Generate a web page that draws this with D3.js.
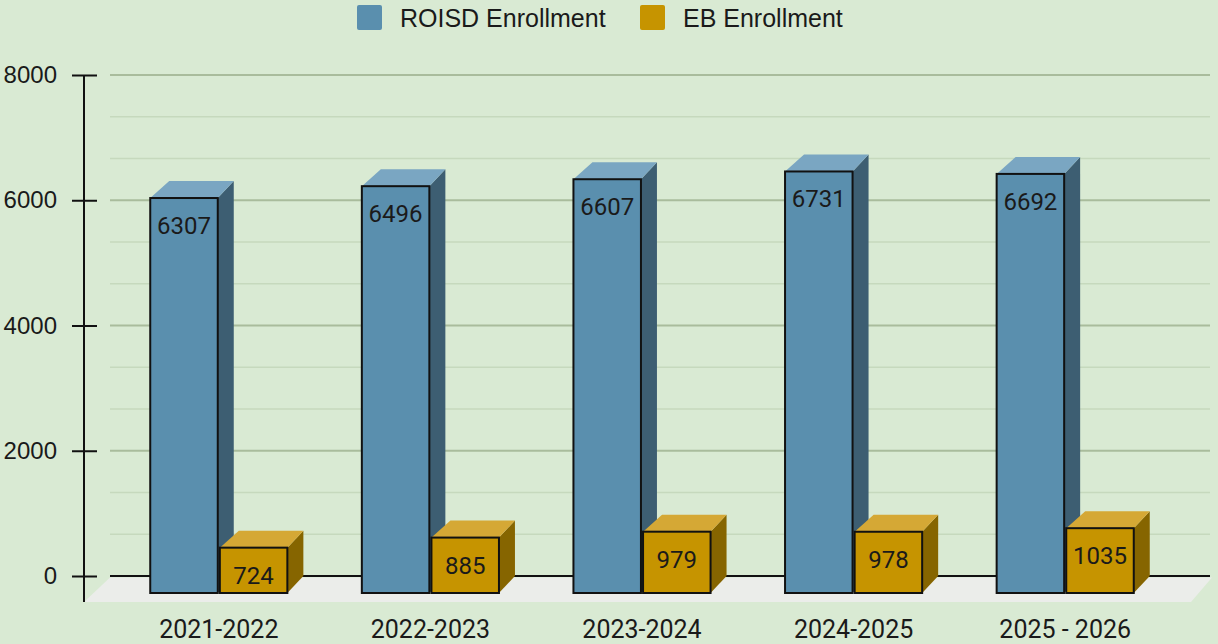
<!DOCTYPE html>
<html>
<head>
<meta charset="utf-8">
<script src="https://cdn.jsdelivr.net/npm/d3@7/dist/d3.min.js"></script>
<style>
  html, body { margin: 0; padding: 0; background: #d9ead3; }
  svg { display: block; }
</style>
</head>
<body>
<svg id="chart" width="1218" height="644"></svg>
<script>
// Enrollment per school year
const categories = ["2021-2022", "2022-2023", "2023-2024", "2024-2025", "2025 - 2026"];
const seriesNames = ["ROISD Enrollment", "EB Enrollment"];
const roisdValues = [6307, 6496, 6607, 6731, 6692];
const ebValues = [724, 885, 979, 978, 1035];
const yTicks = [0, 2000, 4000, 6000, 8000];

const W = 1218, H = 644;
const svg = d3.select("#chart");

// 3D depth offset from the front plane to the back wall
const DX = 16, DY = -17;

const colors = {
  "ROISD Enrollment": { front: "#5a8fae", side: "#3d5e72", top: "#7aa6c2" },
  "EB Enrollment":    { front: "#c69400", side: "#866500", top: "#d5a835" }
};

// scales in the front plane
const x = d3.scaleBand().domain(categories).range([113, 1171]).paddingInner(0.352).paddingOuter(0.176);
const xs = d3.scaleBand().domain(seriesNames).range([0, x.bandwidth()]).paddingInner(0.03);
const y = d3.scaleLinear().domain([0, 8000]).range([593, 92]);

// background
svg.append("rect").attr("width", W).attr("height", H).attr("fill", "#d9ead3");

// back-wall gridlines: major every 2000, minor at thirds
const gx0 = 110, gx1 = 1210;
const minor = d3.range(0, 8000, 2000 / 3).filter(v => v % 2000 > 1 && 2000 - (v % 2000) > 1);
svg.append("g").selectAll("line").data(minor).join("line")
  .attr("x1", gx0).attr("x2", gx1)
  .attr("y1", d => y(d) + DY).attr("y2", d => y(d) + DY)
  .attr("stroke", "#c6d9bd").attr("stroke-width", 1.5);
svg.append("g").selectAll("line").data(yTicks.filter(d => d > 0)).join("line")
  .attr("x1", gx0).attr("x2", gx1)
  .attr("y1", d => y(d) + DY).attr("y2", d => y(d) + DY)
  .attr("stroke", "#a9bc9c").attr("stroke-width", 2);
svg.append("line")
  .attr("x1", gx0).attr("x2", gx1)
  .attr("y1", y(0) + DY).attr("y2", y(0) + DY)
  .attr("stroke", "#111").attr("stroke-width", 2);

// floor
svg.append("polygon")
  .attr("points", [[84, 602], [110, 577.5], [1212, 577.5], [1191, 602]].map(p => p.join(",")).join(" "))
  .attr("fill", "#ebedea");

// y axis
svg.append("line").attr("x1", 84).attr("x2", 84).attr("y1", y(8000) + DY).attr("y2", 602)
  .attr("stroke", "#111").attr("stroke-width", 2);
const yBack = d3.scaleLinear().domain(y.domain()).range(y.range().map(v => v + DY));
const axis = d3.axisLeft(yBack).tickValues(yTicks).tickFormat(d3.format("d"))
  .tickSizeInner(0).tickSizeOuter(0).tickPadding(27);
const axG = svg.append("g").attr("transform", "translate(84,0)").call(axis);
axG.select(".domain").remove();
axG.selectAll("text")
  .attr("font-family", "'Liberation Sans', Arial, sans-serif")
  .attr("font-size", 24).attr("fill", "#1a1a1a");
axG.selectAll(".tick").append("line")
  .attr("x1", -12).attr("x2", 13).attr("y1", 0).attr("y2", 0)
  .attr("stroke", "#111").attr("stroke-width", 2);

// bars
const rows = categories.map((c, i) => ({
  cat: c,
  vals: [
    { name: seriesNames[0], value: roisdValues[i] },
    { name: seriesNames[1], value: ebValues[i] }
  ]
}));

const pts = arr => arr.map(p => p.join(",")).join(" ");

const groups = svg.append("g").selectAll("g").data(rows).join("g")
  .attr("transform", d => `translate(${x(d.cat)},0)`);

groups.each(function (row) {
  const g = d3.select(this);
  row.vals.forEach(v => {
    const x0 = xs(v.name), x1 = x0 + xs.bandwidth();
    const yt = y(v.value), yb = y(0);
    const c = colors[v.name];
    g.append("polygon")
      .attr("points", pts([[x1, yt], [x1 + DX, yt + DY], [x1 + DX, yb + DY], [x1, yb]]))
      .attr("fill", c.side);
    g.append("polygon")
      .attr("points", pts([[x0, yt], [x0 + DX + 3, yt + DY], [x1 + DX, yt + DY], [x1, yt]]))
      .attr("fill", c.top);
    g.append("rect")
      .attr("x", x0).attr("y", yt).attr("width", x1 - x0).attr("height", yb - yt)
      .attr("fill", c.front).attr("stroke", "#111").attr("stroke-width", 2);
    g.append("text")
      .attr("x", (x0 + x1) / 2).attr("y", yt + 28)
      .attr("text-anchor", "middle").attr("dominant-baseline", "central")
      .attr("font-family", "Roboto, sans-serif").attr("font-size", 24)
      .attr("fill", "#1a1a1a")
      .text(v.value);
  });
});

// category labels
svg.append("g").selectAll("text").data(categories).join("text")
  .attr("x", d => x(d) + x.bandwidth() / 2)
  .attr("y", 629)
  .attr("text-anchor", "middle").attr("dominant-baseline", "central")
  .attr("font-family", "Roboto, sans-serif").attr("font-size", 25)
  .attr("fill", "#1a1a1a")
  .text(d => d);

// legend
const legendItems = [
  { name: seriesNames[0], sx: 357, tx: 400 },
  { name: seriesNames[1], sx: 640, tx: 683 }
];
const lg = svg.append("g");
lg.selectAll("rect").data(legendItems).join("rect")
  .attr("x", d => d.sx).attr("y", 5).attr("width", 25).attr("height", 25).attr("rx", 2)
  .attr("fill", d => colors[d.name].front);
lg.selectAll("text").data(legendItems).join("text")
  .attr("x", d => d.tx).attr("y", 18)
  .attr("dominant-baseline", "central")
  .attr("font-family", "'Liberation Sans', Arial, sans-serif").attr("font-size", 25)
  .attr("fill", "#1a1a1a")
  .text(d => d.name);
</script>
</body>
</html>
